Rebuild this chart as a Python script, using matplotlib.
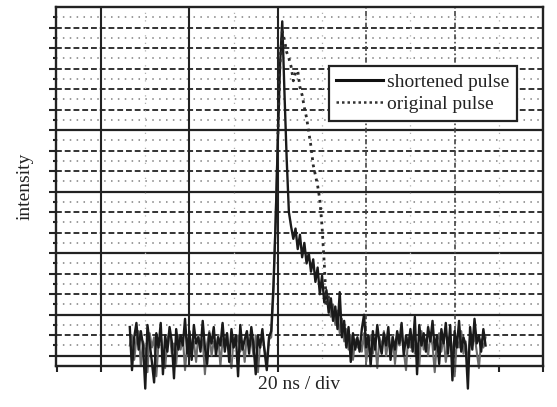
import numpy as np
import matplotlib
matplotlib.use("Agg")
import matplotlib.pyplot as plt
from matplotlib.lines import Line2D

plt.rcParams['font.family'] = ['Liberation Serif', 'DejaVu Serif']

# time axis of both traces (ns), one sample every 0.5 ns
t_start = 6.5
t_step = 0.5

# shortened pulse (in grid divisions)
short_pre = [1.4, -0.7, 0.9, 1.6, 0.3, 1.2, 0.5, -1.6, 1.5, 0.6,
             -0.3, -1.3, 1.1, 0.4, 1.6, -0.9, 1.0, 0.2, 1.4, 0.7,
             -1.1, 1.3, 0.3, 1.0, 0.5, 1.8, 0.1, 1.2, -0.2, 1.5,
             0.6, 0.9, 0.2, 1.7, 0.4, -0.4, 1.1, 0.6, 1.4, 0.0,
             0.9, 0.5, 1.6, 0.2, 1.1, -0.3, 1.3, 0.4, 1.0, -1.0,
             1.5, 0.3, 0.8, 1.2, 0.1, 1.4, 0.5, -0.9, 1.0, 0.4,
             1.3, 0.2, -0.7, 0.9]
short_peak = [1.2, 3.4, 6.5, 10.5, 14.2, 16.3, 12.8, 9.6, 7.0]
short_tail = [6.3, 5.7, 6.2, 5.2, 5.9, 4.8, 5.5, 4.5, 5.0, 4.1,
              4.7, 3.6, 4.3, 3.0, 3.9, 2.6, 3.2, 2.1, 2.8, 1.7,
              2.4, 1.3, 3.1, 0.9, 1.7, 0.4, 1.4, -0.3, 1.1, 0.3, 0.9]
short_post = [0.2, 1.3, 2.0, 0.4, 1.0, -0.5, 1.2, 0.3, 1.5, 0.6,
              0.1, 1.1, 0.5, 1.4, -0.2, 0.9, 0.3, 1.2, 0.6, 1.6,
              0.0, 1.0, 0.4, 1.3, 0.2, 1.9, -0.9, 1.5, 0.5, 1.1,
              0.2, 1.4, 0.7, 1.7, 0.3, 1.0, -0.4, 1.3, 0.6, 1.6,
              0.1, 1.5, -1.2, 1.2, 0.4, 1.7, 0.2, 0.9, 0.5, -1.6,
              1.4, 0.3, 1.8, 0.6, 1.0, 0.2, 1.3, 0.5]

# original pulse
orig_pre = [0.5, 1.0, -0.2, 0.8, 1.2, -0.5, 0.7, 0.3, -0.8, 1.1,
            0.4, 0.9, -1.0, 0.6, 1.0, 0.2, -0.6, 0.8, 1.2, 0.1,
            0.6, -0.4, 1.0, 0.3, 0.9, -0.7, 0.5, 1.1, 0.2, 0.7,
            -0.3, 1.0, 0.4, 0.8, -0.9, 0.6, 1.2, 0.0, 0.7, 0.3,
            1.0, -0.5, 0.8, 0.4, 1.1, 0.1, -0.6, 0.9, 0.5, 1.0,
            0.2, 0.7, -0.3, 1.1, 0.4, 0.8, 0.0, 1.0, -0.8, 0.6,
            0.9, 0.3, -0.2, 0.8]
orig_peak = [0.9, 3.0, 6.8, 10.8, 14.3, 15.8, 15.4, 14.8, 14.5, 14.1,
             13.4, 13.8, 13.9, 13.1, 12.7, 12.1, 11.6, 10.9, 10.2, 9.3,
             8.8, 8.3, 7.6, 6.3, 4.5, 2.4]
orig_tail = [2.9, 1.9, 2.5, 1.5, 2.2, 1.1, 1.8, 0.7, 1.3, 0.3, 1.0, -0.2, 0.8, 0.4]
orig_post = [0.7, 0.2, 1.1, -0.3, 0.6, 1.0, 0.1, 0.8, -0.6, 0.9,
             0.4, 1.2, 0.0, 0.7, 0.3, 1.0, -0.4, 0.8, 0.5, 1.1,
             0.2, -0.7, 0.9, 0.4, 1.0, 0.1, 0.6, -0.5, 1.2, 0.3,
             0.8, 0.0, 1.0, 0.5, -0.8, 0.7, 1.1, 0.2, 0.9, -0.3,
             0.6, 1.0, 0.3, -1.0, 0.8, 0.4, 1.2, 0.1, 0.7, -0.4,
             0.9, 0.5, 1.0, 0.2, -0.6, 0.8, 0.4, 0.9]

shortened = np.array(short_pre + short_peak + short_tail + short_post)
original = np.array(orig_pre + orig_peak + orig_tail + orig_post)
t_short = t_start + t_step * np.arange(len(shortened))
t_orig = t_start + t_step * np.arange(len(original))

# where the original pulse leaves / rejoins the noise floor
i_up = len(orig_pre) + 4
i_down = len(orig_pre) + len(orig_peak)

fig = plt.figure(figsize=(5.57, 4.07), dpi=100)
ax = fig.add_axes([0.1005, 0.1007, 0.8744, 0.8821])
ax.set_xlim(-10.2, 100)
ax.set_ylim(-0.5, 17.0)

# oscilloscope style grid
solid_rows = [0, 2, 5, 8, 11]
for k in range(17):
    if k in solid_rows:
        ax.axhline(k, color='#222222', lw=1.6, zorder=1)
    else:
        ax.axhline(k, color='#333333', lw=1.4, ls=(0, (3, 1.5)), zorder=1)
    ax.axhline(k + 0.5, color='#808080', lw=1.1, ls=(0, (1, 3.5)), zorder=1)
for x in [0, 20, 40]:
    ax.axvline(x, color='#222222', lw=1.5, zorder=1)
for x in [60, 80]:
    ax.axvline(x, color='#444444', lw=1.2, ls=(0, (3, 1.5, 1, 1.5)), zorder=1)
for x in [10, 30, 50, 70, 90]:
    ax.axvline(x, color='#b0b0b0', lw=0.9, ls=(0, (1, 5)), zorder=1)

# noise floor of the original trace shows as grey behind the dark one
ax.plot(t_orig[:i_up], original[:i_up], color='#6a6a6a', lw=1.5, zorder=2, clip_on=False)
ax.plot(t_orig[i_down:], original[i_down:], color='#6a6a6a', lw=1.5, zorder=2, clip_on=False)
ax.plot(t_short, shortened, color='#1a1a1a', lw=1.7, zorder=3, clip_on=False)
ax.plot(t_orig[i_up - 1:i_down + 1], original[i_up - 1:i_down + 1], color='#2a2a2a',
        lw=2.0, ls=(0, (1, 1.6)), zorder=4)

for s in ax.spines.values():
    s.set_linewidth(1.7)
    s.set_color('#222222')

ax.set_yticks(np.arange(0, 17, 1))
ax.set_yticks(np.arange(0.5, 17, 1), minor=True)
ax.set_xticks([-10, 0, 40, 80, 90, 100])
ax.tick_params(axis='y', which='major', direction='out', length=5, width=1.5,
               labelleft=False, color='#222222')
ax.tick_params(axis='y', which='minor', direction='out', length=2.5, width=1.5,
               color='#222222')
ax.tick_params(axis='x', which='major', direction='out', length=4, width=1.5,
               labelbottom=False, color='#222222')

ax.set_ylabel('intensity', fontsize=14, color='#222222', labelpad=10)
ax.set_xlabel('20 ns / div', fontsize=14, color='#222222', labelpad=3)

handles = [Line2D([], [], color='#111111', lw=2.2),
           Line2D([], [], color='#333333', lw=1.8, ls=(0, (1, 1.2)))]
leg = ax.legend(handles, ['shortened pulse', 'original pulse'],
                loc='upper left', bbox_to_anchor=(0.56, 0.836), borderaxespad=0,
                fontsize=14, handlelength=2.4, handletextpad=0.2,
                labelspacing=0.2, borderpad=0.4, fancybox=False, framealpha=1)
leg.get_frame().set_edgecolor('#222222')
leg.get_frame().set_linewidth(1.6)
leg.set_zorder(5)
for txt in leg.get_texts():
    txt.set_color('#222222')

fig.savefig('out.png', dpi=100)
